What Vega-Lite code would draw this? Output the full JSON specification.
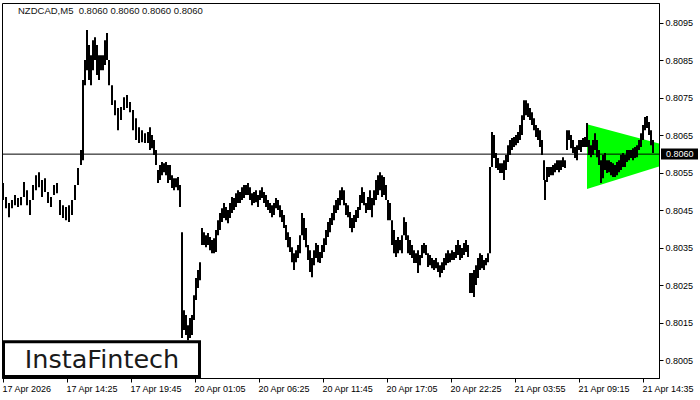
{
 "$schema": "https://vega.github.io/schema/vega-lite/v6.json",
 "width": 657,
 "height": 375,
 "autosize": {"type": "none"},
 "padding": {"left": 2, "top": 3, "right": 41, "bottom": 22},
 "background": "white",
 "config": {"view": {"stroke": "#000", "strokeWidth": 1}},
 "layer": [
  {
   "data": {"values": [{"bar": 587, "top": 0.8068, "bottom": 0.80507}, {"bar": 698, "top": 0.806, "bottom": 0.806}]},
   "mark": {"type": "area", "color": "#00ff00", "opacity": 1, "clip": true},
   "encoding": {
    "x": {"field": "bar", "type": "quantitative", "title": null, "scale": {"domain": [2, 659], "nice": false, "zero": false},
     "axis": {"values": [3, 67, 131, 195, 259, 323, 387, 451, 515, 579, 643],
      "labelExpr": "['17 Apr 2026','17 Apr 14:25','17 Apr 19:45','20 Apr 01:05','20 Apr 06:25','20 Apr 11:45','20 Apr 17:05','20 Apr 22:25','21 Apr 03:55','21 Apr 09:15','21 Apr 14:35'][round((datum.value-3)/64)]",
      "labelAlign": "left", "labelOffset": -1, "labelFont": "Liberation Sans", "labelFontSize": 9, "labelColor": "#000",
      "tickColor": "#000", "tickSize": 4, "domainColor": "#000", "grid": false, "labelPadding": 2,
      "labelBound": false, "labelFlush": false, "labelOverlap": false, "title": null}},
    "y": {"field": "top", "type": "quantitative", "title": null, "scale": {"domain": [0.80003, 0.81003], "nice": false, "zero": false},
     "axis": {"orient": "right", "values": [0.8005, 0.8015, 0.8025, 0.8035, 0.8045, 0.8055, 0.8065, 0.8075, 0.8085, 0.8095],
      "format": ".4f", "grid": false, "domainColor": "#000", "tickColor": "#000", "tickSize": 4, "labelPadding": 2,
      "labelFont": "Liberation Sans", "labelFontSize": 9, "labelColor": "#000", "labelBound": false, "labelFlush": false,
      "labelOverlap": false, "title": null}},
    "y2": {"field": "bottom"}
   }
  },
  {
   "data": {"values": [{"price": 0.806}]},
   "mark": {"type": "rule", "color": "#000", "strokeWidth": 1},
   "encoding": {"y": {"field": "price", "type": "quantitative", "title": null}}
  },
  {
   "data": {"values": [
    {"bar":3,"hi":0.80523,"lo":0.80478},{"bar":6,"hi":0.80486,"lo":0.80456},{"bar":9,"hi":0.8047,"lo":0.80432},
    {"bar":12,"hi":0.80478,"lo":0.80456},{"bar":15,"hi":0.80491,"lo":0.80464},{"bar":18,"hi":0.80483,"lo":0.80459},
    {"bar":21,"hi":0.80486,"lo":0.80464},{"bar":24,"hi":0.80526,"lo":0.80486},{"bar":27,"hi":0.80504,"lo":0.80464},
    {"bar":30,"hi":0.80478,"lo":0.80438},{"bar":33,"hi":0.80518,"lo":0.80478},{"bar":36,"hi":0.80544,"lo":0.80504},
    {"bar":39,"hi":0.80552,"lo":0.80512},{"bar":42,"hi":0.80531,"lo":0.80486},{"bar":45,"hi":0.80536,"lo":0.80499},
    {"bar":48,"hi":0.80499,"lo":0.8047},{"bar":51,"hi":0.80486,"lo":0.80459},{"bar":54,"hi":0.80518,"lo":0.80491},
    {"bar":57,"hi":0.80523,"lo":0.80496},{"bar":60,"hi":0.80478,"lo":0.80438},{"bar":63,"hi":0.80464,"lo":0.8043},
    {"bar":66,"hi":0.80459,"lo":0.80424},{"bar":69,"hi":0.80464,"lo":0.80419},{"bar":72,"hi":0.80478,"lo":0.80438},
    {"bar":75,"hi":0.80518,"lo":0.80478},{"bar":78,"hi":0.80563,"lo":0.80518},{"bar":81,"hi":0.80611,"lo":0.80571},
    {"bar":83,"hi":0.80798,"lo":0.80584},{"bar":85,"hi":0.80851,"lo":0.80784},{"bar":87,"hi":0.80931,"lo":0.80824},
    {"bar":89,"hi":0.80891,"lo":0.80798},{"bar":91,"hi":0.80864,"lo":0.80784},{"bar":93,"hi":0.80904,"lo":0.80824},
    {"bar":95,"hi":0.80912,"lo":0.80851},{"bar":97,"hi":0.80891,"lo":0.80811},{"bar":99,"hi":0.80864,"lo":0.80798},
    {"bar":101,"hi":0.80864,"lo":0.80824},{"bar":103,"hi":0.80864,"lo":0.80824},{"bar":105,"hi":0.80904,"lo":0.80838},
    {"bar":107,"hi":0.80923,"lo":0.80851},{"bar":109,"hi":0.80851,"lo":0.80784},{"bar":112,"hi":0.80784,"lo":0.80731},
    {"bar":115,"hi":0.80744,"lo":0.80704},{"bar":118,"hi":0.80723,"lo":0.80664},{"bar":121,"hi":0.80726,"lo":0.80691},
    {"bar":124,"hi":0.80752,"lo":0.80718},{"bar":127,"hi":0.80758,"lo":0.80723},{"bar":130,"hi":0.80739,"lo":0.80712},
    {"bar":133,"hi":0.80718,"lo":0.80664},{"bar":136,"hi":0.80696,"lo":0.80638},{"bar":139,"hi":0.80672,"lo":0.8063},
    {"bar":142,"hi":0.80664,"lo":0.80632},{"bar":145,"hi":0.80656,"lo":0.8063},{"bar":148,"hi":0.80659,"lo":0.8063},
    {"bar":150,"hi":0.80672,"lo":0.80611},{"bar":152,"hi":0.80651,"lo":0.80616},{"bar":154,"hi":0.80638,"lo":0.80598},
    {"bar":156,"hi":0.80611,"lo":0.80571},{"bar":158,"hi":0.80558,"lo":0.80523},{"bar":160,"hi":0.80571,"lo":0.80531},
    {"bar":162,"hi":0.80579,"lo":0.80544},{"bar":164,"hi":0.80576,"lo":0.80552},{"bar":166,"hi":0.80579,"lo":0.80544},
    {"bar":168,"hi":0.80571,"lo":0.80523},{"bar":170,"hi":0.80571,"lo":0.80531},{"bar":172,"hi":0.80544,"lo":0.8051},
    {"bar":174,"hi":0.80536,"lo":0.80504},{"bar":176,"hi":0.80536,"lo":0.80512},{"bar":178,"hi":0.80539,"lo":0.80504},
    {"bar":180,"hi":0.80518,"lo":0.80459},{"bar":182,"hi":0.80392,"lo":0.8011},{"bar":184,"hi":0.80184,"lo":0.80131},
    {"bar":186,"hi":0.80171,"lo":0.80118},{"bar":188,"hi":0.80144,"lo":0.80104},{"bar":190,"hi":0.80163,"lo":0.8011},
    {"bar":192,"hi":0.80171,"lo":0.80118},{"bar":194,"hi":0.80224,"lo":0.80158},{"bar":196,"hi":0.8027,"lo":0.80211},
    {"bar":198,"hi":0.80291,"lo":0.80243},{"bar":200,"hi":0.80312,"lo":0.80264},{"bar":202,"hi":0.80403,"lo":0.80358},
    {"bar":204,"hi":0.80392,"lo":0.80358},{"bar":206,"hi":0.80384,"lo":0.80352},{"bar":208,"hi":0.8039,"lo":0.80358},
    {"bar":210,"hi":0.80379,"lo":0.80344},{"bar":212,"hi":0.80371,"lo":0.80336},{"bar":214,"hi":0.80376,"lo":0.80336},
    {"bar":216,"hi":0.80398,"lo":0.80339},{"bar":218,"hi":0.80424,"lo":0.80384},{"bar":220,"hi":0.80443,"lo":0.80398},
    {"bar":222,"hi":0.80456,"lo":0.80419},{"bar":224,"hi":0.8047,"lo":0.8043},{"bar":226,"hi":0.80459,"lo":0.80424},
    {"bar":228,"hi":0.80451,"lo":0.80416},{"bar":230,"hi":0.8047,"lo":0.8043},{"bar":232,"hi":0.80486,"lo":0.80443},
    {"bar":234,"hi":0.80483,"lo":0.80451},{"bar":236,"hi":0.80496,"lo":0.80459},{"bar":238,"hi":0.80504,"lo":0.8047},
    {"bar":240,"hi":0.80499,"lo":0.8047},{"bar":242,"hi":0.80512,"lo":0.80478},{"bar":244,"hi":0.80518,"lo":0.80483},
    {"bar":246,"hi":0.80518,"lo":0.80491},{"bar":248,"hi":0.80523,"lo":0.80491},{"bar":250,"hi":0.80512,"lo":0.80478},
    {"bar":252,"hi":0.80496,"lo":0.80464},{"bar":254,"hi":0.80499,"lo":0.8047},{"bar":256,"hi":0.80504,"lo":0.80472},
    {"bar":258,"hi":0.80491,"lo":0.80459},{"bar":260,"hi":0.80504,"lo":0.80478},{"bar":262,"hi":0.80512,"lo":0.80483},
    {"bar":264,"hi":0.80499,"lo":0.8047},{"bar":266,"hi":0.80491,"lo":0.80459},{"bar":268,"hi":0.80478,"lo":0.80451},
    {"bar":270,"hi":0.8047,"lo":0.80443},{"bar":272,"hi":0.80464,"lo":0.80432},{"bar":274,"hi":0.8047,"lo":0.80438},
    {"bar":276,"hi":0.80483,"lo":0.80456},{"bar":278,"hi":0.80478,"lo":0.80451},{"bar":280,"hi":0.80464,"lo":0.80432},
    {"bar":282,"hi":0.80451,"lo":0.80419},{"bar":284,"hi":0.80438,"lo":0.80403},{"bar":286,"hi":0.80411,"lo":0.80371},
    {"bar":288,"hi":0.80392,"lo":0.80352},{"bar":290,"hi":0.80379,"lo":0.80339},{"bar":292,"hi":0.80352,"lo":0.80312},
    {"bar":294,"hi":0.80336,"lo":0.80291},{"bar":296,"hi":0.80344,"lo":0.80312},{"bar":298,"hi":0.80358,"lo":0.80323},
    {"bar":300,"hi":0.80384,"lo":0.80336},{"bar":302,"hi":0.80443,"lo":0.80384},{"bar":304,"hi":0.8043,"lo":0.80371},
    {"bar":306,"hi":0.80403,"lo":0.80352},{"bar":308,"hi":0.80358,"lo":0.80318},{"bar":310,"hi":0.80344,"lo":0.80286},
    {"bar":312,"hi":0.80323,"lo":0.80272},{"bar":314,"hi":0.80344,"lo":0.80304},{"bar":316,"hi":0.80363,"lo":0.80323},
    {"bar":318,"hi":0.80358,"lo":0.80312},{"bar":320,"hi":0.80339,"lo":0.8031},{"bar":322,"hi":0.80358,"lo":0.80323},
    {"bar":324,"hi":0.80376,"lo":0.80339},{"bar":326,"hi":0.80398,"lo":0.80358},{"bar":328,"hi":0.80419,"lo":0.80379},
    {"bar":330,"hi":0.8043,"lo":0.80392},{"bar":332,"hi":0.80443,"lo":0.80411},{"bar":334,"hi":0.80464,"lo":0.80424},
    {"bar":336,"hi":0.80478,"lo":0.80443},{"bar":338,"hi":0.80483,"lo":0.80451},{"bar":340,"hi":0.80504,"lo":0.80464},
    {"bar":342,"hi":0.80512,"lo":0.80478},{"bar":344,"hi":0.80504,"lo":0.80464},{"bar":346,"hi":0.8047,"lo":0.80438},
    {"bar":348,"hi":0.80464,"lo":0.80432},{"bar":350,"hi":0.80446,"lo":0.80403},{"bar":352,"hi":0.8043,"lo":0.80392},
    {"bar":354,"hi":0.80438,"lo":0.80403},{"bar":356,"hi":0.80451,"lo":0.80419},{"bar":358,"hi":0.80459,"lo":0.8043},
    {"bar":360,"hi":0.80491,"lo":0.80451},{"bar":362,"hi":0.80512,"lo":0.8047},{"bar":364,"hi":0.80499,"lo":0.80464},
    {"bar":366,"hi":0.8047,"lo":0.80443},{"bar":368,"hi":0.80486,"lo":0.80451},{"bar":370,"hi":0.80504,"lo":0.80451},
    {"bar":372,"hi":0.80483,"lo":0.80432},{"bar":374,"hi":0.80504,"lo":0.80464},{"bar":376,"hi":0.80531,"lo":0.80478},
    {"bar":378,"hi":0.80544,"lo":0.80491},{"bar":380,"hi":0.80552,"lo":0.80504},{"bar":382,"hi":0.80544,"lo":0.80486},
    {"bar":384,"hi":0.80539,"lo":0.80491},{"bar":386,"hi":0.80518,"lo":0.80478},{"bar":388,"hi":0.80478,"lo":0.80424},
    {"bar":390,"hi":0.8047,"lo":0.80424},{"bar":392,"hi":0.80424,"lo":0.80358},{"bar":394,"hi":0.80398,"lo":0.80336},
    {"bar":396,"hi":0.80371,"lo":0.80326},{"bar":398,"hi":0.80379,"lo":0.80336},{"bar":400,"hi":0.80371,"lo":0.80344},
    {"bar":402,"hi":0.80384,"lo":0.80336},{"bar":404,"hi":0.80432,"lo":0.80384},{"bar":406,"hi":0.80419,"lo":0.80371},
    {"bar":408,"hi":0.80384,"lo":0.80336},{"bar":410,"hi":0.80371,"lo":0.80331},{"bar":412,"hi":0.80358,"lo":0.80323},
    {"bar":414,"hi":0.80344,"lo":0.8031},{"bar":416,"hi":0.80336,"lo":0.8031},{"bar":418,"hi":0.80344,"lo":0.80283},
    {"bar":420,"hi":0.80331,"lo":0.80304},{"bar":422,"hi":0.80358,"lo":0.80323},{"bar":424,"hi":0.80363,"lo":0.80336},
    {"bar":426,"hi":0.80358,"lo":0.80331},{"bar":428,"hi":0.80336,"lo":0.80299},{"bar":430,"hi":0.80331,"lo":0.80304},
    {"bar":432,"hi":0.80323,"lo":0.80296},{"bar":434,"hi":0.80318,"lo":0.80291},{"bar":436,"hi":0.80323,"lo":0.80296},
    {"bar":438,"hi":0.80312,"lo":0.80286},{"bar":440,"hi":0.80304,"lo":0.80272},{"bar":442,"hi":0.80312,"lo":0.80283},
    {"bar":444,"hi":0.80323,"lo":0.80291},{"bar":446,"hi":0.80336,"lo":0.80304},{"bar":448,"hi":0.80344,"lo":0.8031},
    {"bar":450,"hi":0.80336,"lo":0.80312},{"bar":452,"hi":0.80344,"lo":0.80318},{"bar":454,"hi":0.80339,"lo":0.80318},
    {"bar":456,"hi":0.80358,"lo":0.80323},{"bar":458,"hi":0.80371,"lo":0.80331},{"bar":460,"hi":0.80358,"lo":0.80318},
    {"bar":462,"hi":0.8035,"lo":0.80323},{"bar":464,"hi":0.80363,"lo":0.80331},{"bar":466,"hi":0.80371,"lo":0.80339},
    {"bar":468,"hi":0.80358,"lo":0.80326},{"bar":470,"hi":0.80283,"lo":0.8023},{"bar":472,"hi":0.80283,"lo":0.8023},
    {"bar":474,"hi":0.80291,"lo":0.80219},{"bar":476,"hi":0.80304,"lo":0.80251},{"bar":478,"hi":0.80323,"lo":0.8027},
    {"bar":480,"hi":0.80336,"lo":0.80291},{"bar":482,"hi":0.80331,"lo":0.80296},{"bar":484,"hi":0.80318,"lo":0.80291},
    {"bar":486,"hi":0.80323,"lo":0.80304},{"bar":488,"hi":0.80336,"lo":0.80312},{"bar":490,"hi":0.80566,"lo":0.80336},
    {"bar":492,"hi":0.80659,"lo":0.80566},{"bar":494,"hi":0.80651,"lo":0.8059},{"bar":496,"hi":0.80603,"lo":0.80563},
    {"bar":498,"hi":0.8059,"lo":0.80558},{"bar":500,"hi":0.80576,"lo":0.8055},{"bar":502,"hi":0.80576,"lo":0.8055},
    {"bar":504,"hi":0.80584,"lo":0.80531},{"bar":506,"hi":0.80598,"lo":0.80558},{"bar":508,"hi":0.80624,"lo":0.80579},
    {"bar":510,"hi":0.80638,"lo":0.80598},{"bar":512,"hi":0.80643,"lo":0.80611},{"bar":514,"hi":0.80646,"lo":0.80619},
    {"bar":516,"hi":0.80651,"lo":0.80624},{"bar":518,"hi":0.80659,"lo":0.8063},{"bar":520,"hi":0.80678,"lo":0.80638},
    {"bar":522,"hi":0.80704,"lo":0.80651},{"bar":524,"hi":0.80744,"lo":0.80691},{"bar":526,"hi":0.80744,"lo":0.80704},
    {"bar":528,"hi":0.80736,"lo":0.80699},{"bar":530,"hi":0.80723,"lo":0.80691},{"bar":532,"hi":0.80712,"lo":0.80678},
    {"bar":534,"hi":0.80696,"lo":0.80664},{"bar":536,"hi":0.80678,"lo":0.80646},{"bar":538,"hi":0.8067,"lo":0.80638},
    {"bar":540,"hi":0.80664,"lo":0.80619},{"bar":542,"hi":0.80638,"lo":0.80598},{"bar":544,"hi":0.80584,"lo":0.80531},
    {"bar":545,"hi":0.80531,"lo":0.80478},{"bar":547,"hi":0.80566,"lo":0.80526},{"bar":549,"hi":0.80566,"lo":0.80539},
    {"bar":551,"hi":0.80566,"lo":0.80544},{"bar":553,"hi":0.80571,"lo":0.80544},{"bar":555,"hi":0.80576,"lo":0.80552},
    {"bar":557,"hi":0.80584,"lo":0.80558},{"bar":559,"hi":0.80584,"lo":0.80552},{"bar":561,"hi":0.80584,"lo":0.80558},
    {"bar":563,"hi":0.80592,"lo":0.80566},{"bar":565,"hi":0.80584,"lo":0.80563},{"bar":567,"hi":0.80664,"lo":0.80611},
    {"bar":569,"hi":0.80664,"lo":0.80638},{"bar":571,"hi":0.80651,"lo":0.80616},{"bar":573,"hi":0.80638,"lo":0.80603},
    {"bar":575,"hi":0.80619,"lo":0.8059},{"bar":577,"hi":0.80624,"lo":0.80584},{"bar":579,"hi":0.80638,"lo":0.80611},
    {"bar":581,"hi":0.80638,"lo":0.80606},{"bar":583,"hi":0.80643,"lo":0.80619},{"bar":585,"hi":0.80646,"lo":0.80619},
    {"bar":587,"hi":0.80683,"lo":0.80619},{"bar":589,"hi":0.80638,"lo":0.80598},{"bar":591,"hi":0.80624,"lo":0.80592},
    {"bar":593,"hi":0.80638,"lo":0.80598},{"bar":595,"hi":0.80656,"lo":0.80611},{"bar":597,"hi":0.80638,"lo":0.80592},
    {"bar":599,"hi":0.80611,"lo":0.80571},{"bar":601,"hi":0.80584,"lo":0.80523},{"bar":603,"hi":0.80598,"lo":0.80536},
    {"bar":605,"hi":0.80603,"lo":0.80558},{"bar":607,"hi":0.80584,"lo":0.8055},{"bar":609,"hi":0.80584,"lo":0.80552},
    {"bar":611,"hi":0.80579,"lo":0.80544},{"bar":613,"hi":0.80576,"lo":0.80539},{"bar":615,"hi":0.80571,"lo":0.80539},
    {"bar":617,"hi":0.80579,"lo":0.80544},{"bar":619,"hi":0.80584,"lo":0.80552},{"bar":621,"hi":0.80598,"lo":0.80558},
    {"bar":623,"hi":0.80603,"lo":0.80566},{"bar":625,"hi":0.80598,"lo":0.80566},{"bar":627,"hi":0.80611,"lo":0.80579},
    {"bar":629,"hi":0.80611,"lo":0.80584},{"bar":631,"hi":0.80611,"lo":0.8059},{"bar":633,"hi":0.80616,"lo":0.80584},
    {"bar":635,"hi":0.80619,"lo":0.8059},{"bar":637,"hi":0.80624,"lo":0.80592},{"bar":639,"hi":0.80638,"lo":0.80611},
    {"bar":641,"hi":0.80656,"lo":0.80619},{"bar":643,"hi":0.80678,"lo":0.80638},{"bar":645,"hi":0.80699,"lo":0.80664},
    {"bar":647,"hi":0.80702,"lo":0.8067},{"bar":649,"hi":0.80686,"lo":0.80651},{"bar":651,"hi":0.80664,"lo":0.80624},
    {"bar":653,"hi":0.80638,"lo":0.80603}
   ]},
   "mark": {"type": "rule", "color": "#000", "strokeWidth": 2},
   "encoding": {
    "x": {"field": "bar", "type": "quantitative", "title": null},
    "y": {"field": "hi", "type": "quantitative", "title": null},
    "y2": {"field": "lo"}
   }
  },
  {
   "data": {"values": [{"price": 0.806, "label": "0.8060"}]},
   "layer": [
    {
     "mark": {"type": "rect", "color": "#000", "clip": false},
     "encoding": {
      "x": {"datum": 661, "type": "quantitative", "title": null},
      "x2": {"datum": 698},
      "y": {"datum": 0.80615, "type": "quantitative", "title": null},
      "y2": {"datum": 0.80586}
     }
    },
    {
     "mark": {"type": "text", "color": "#fff", "align": "left", "baseline": "middle", "font": "Liberation Sans", "fontSize": 9, "clip": false},
     "encoding": {
      "x": {"datum": 666, "type": "quantitative", "title": null},
      "y": {"field": "price", "type": "quantitative", "title": null},
      "text": {"field": "label"}
     }
    }
   ]
  },
  {
   "data": {"values": [{"t": "NZDCAD,M5\u00a0\u00a00.8060 0.8060 0.8060 0.8060"}]},
   "mark": {"type": "text", "color": "#111", "align": "left", "baseline": "middle", "font": "Liberation Sans", "fontSize": 9.5},
   "encoding": {
    "x": {"datum": 18, "type": "quantitative", "title": null},
    "y": {"datum": 0.80983, "type": "quantitative", "title": null},
    "text": {"field": "t"}
   }
  },
  {
   "data": {"values": [{"logo": "InstaFintech"}]},
   "layer": [
    {
     "mark": {"type": "rect", "fill": "#fff", "stroke": "#000", "strokeWidth": 3},
     "encoding": {
      "x": {"datum": 3.5, "type": "quantitative", "title": null},
      "x2": {"datum": 199.5},
      "y": {"datum": 0.801, "type": "quantitative", "title": null},
      "y2": {"datum": 0.80007}
     }
    },
    {
     "mark": {"type": "text", "color": "#1a1a1a", "align": "center", "baseline": "alphabetic", "font": "DejaVu Sans", "fontSize": 25.5},
     "encoding": {
      "x": {"datum": 102, "type": "quantitative", "title": null},
      "y": {"datum": 0.8003, "type": "quantitative", "title": null},
      "text": {"field": "logo"}
     }
    }
   ]
  }
 ]
}
